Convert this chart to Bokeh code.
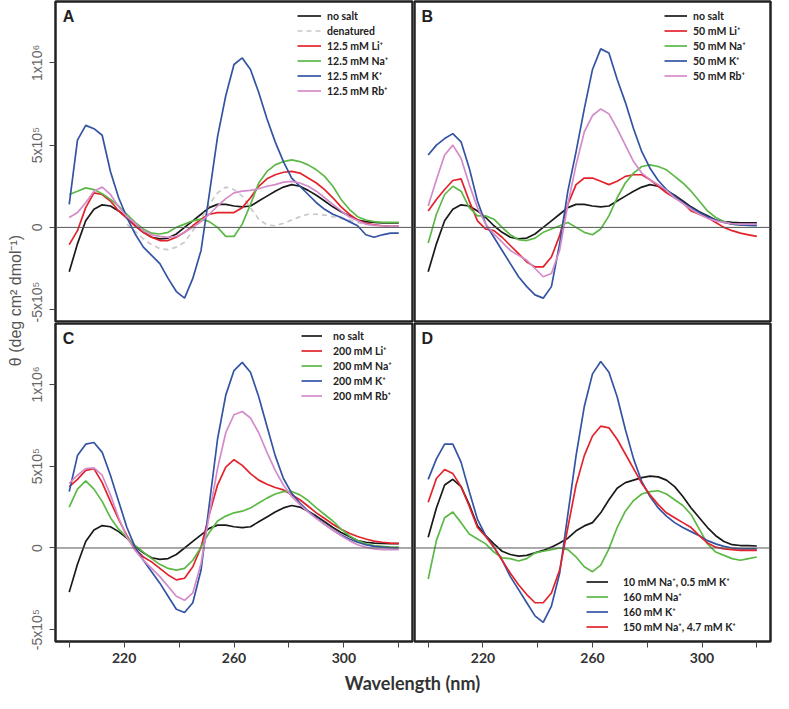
import numpy as np
from bokeh.plotting import figure
from bokeh.layouts import row, column
from bokeh.models import Range1d, FixedTicker, Span, Legend, LegendItem, Label
from bokeh.embed import file_html
from bokeh.resources import INLINE

# ---------------- data (theta in units of 1e5 deg cm2 dmol-1) ----------------
WL = list(range(200, 321, 3))          # wavelength (nm)
DEN_WL = list(range(221, 321, 3))      # denatured trace wavelengths

NO_SALT = [-2.7, -1.0, 0.4, 1.1, 1.37, 1.3, 1.0, 0.6, 0.1, -0.3, -0.6, -0.7, -0.65, -0.4, 0.0, 0.4,
           0.8, 1.2, 1.4, 1.4, 1.3, 1.25, 1.3, 1.6, 1.9, 2.2, 2.45, 2.6, 2.5, 2.25, 1.95, 1.6, 1.25,
           0.95, 0.7, 0.45, 0.35, 0.3, 0.28, 0.27, 0.27]
A_DEN = [0.2, -0.25, -0.7, -1.05, -1.3, -1.35, -1.2, -0.9, -0.2, 0.5, 1.4, 2.1, 2.45, 2.3, 1.9, 1.2,
         0.5, 0.15, 0.1, 0.25, 0.45, 0.65, 0.8, 0.8, 0.75, 0.65, 0.55, 0.45, 0.3, 0.2, 0.15, 0.1, 0.1, 0.1]
A_LI = [-1.05, -0.2, 1.2, 2.1, 2.0, 1.6, 1.0, 0.55, 0.1, -0.3, -0.6, -0.8, -0.8, -0.6, -0.3, 0.1, 0.5,
        0.8, 0.9, 0.9, 0.9, 1.2, 1.8, 2.5, 2.95, 3.2, 3.35, 3.4, 3.3, 3.0, 2.7, 2.3, 1.8, 1.25, 0.8,
        0.45, 0.25, 0.15, 0.1, 0.07, 0.06]
A_NA = [2.0, 2.2, 2.4, 2.3, 2.05, 1.7, 1.3, 0.8, 0.3, -0.1, -0.35, -0.4, -0.3, 0.0, 0.2, 0.4, 0.5,
        0.35, 0.0, -0.55, -0.55, 0.2, 1.4, 2.7, 3.4, 3.8, 4.0, 4.1, 4.0, 3.8, 3.5, 3.1, 2.5, 1.7, 1.1,
        0.65, 0.45, 0.35, 0.3, 0.3, 0.3]
A_K = [1.4, 5.3, 6.2, 6.0, 5.6, 3.4, 1.8, 0.6, -0.4, -1.2, -1.7, -2.2, -3.1, -3.9, -4.3, -3.1, -1.4,
       2.0, 5.5, 8.0, 9.9, 10.3, 9.6, 8.2, 6.6, 5.2, 4.0, 3.0, 2.5, 2.0, 1.5, 1.1, 0.8, 0.6, 0.35, 0.1,
       -0.45, -0.6, -0.45, -0.35, -0.35]
A_RB = [0.6, 0.9, 1.5, 2.2, 2.45, 2.0, 1.25, 0.65, 0.25, -0.2, -0.45, -0.55, -0.6, -0.55, -0.3, 0.0,
        0.35, 0.8, 1.3, 1.75, 2.1, 2.2, 2.25, 2.35, 2.5, 2.6, 2.75, 2.8, 2.7, 2.5, 2.2, 1.8, 1.4, 1.0,
        0.65, 0.4, 0.2, 0.12, 0.1, 0.08, 0.08]

B_LI = [1.0, 1.7, 2.3, 2.85, 2.95, 1.6, 0.4, -0.1, -0.2, -0.6, -1.1, -1.6, -2.1, -2.4, -2.4, -1.8, -0.5,
        1.4, 2.6, 3.0, 3.0, 2.8, 2.6, 2.8, 3.1, 3.2, 3.2, 2.9, 2.5, 2.1, 1.8, 1.5, 1.0, 0.8, 0.6, 0.3,
        0.0, -0.2, -0.35, -0.45, -0.55]
B_NA = [-0.95, 0.8, 2.0, 2.5, 2.2, 1.2, 0.7, 0.7, 0.5, 0.0, -0.45, -0.75, -0.8, -0.65, -0.3, -0.1, 0.1,
        0.3, 0.0, -0.3, -0.45, -0.1, 0.7, 1.8, 2.7, 3.3, 3.7, 3.8, 3.7, 3.5, 3.1, 2.7, 2.2, 1.6, 1.0,
        0.6, 0.35, 0.2, 0.15, 0.15, 0.15]
B_K = [4.4, 5.0, 5.4, 5.7, 5.2, 3.6, 1.6, 0.2, -0.6, -1.4, -2.2, -3.0, -3.6, -4.1, -4.3, -3.6, -1.0,
       2.2, 4.6, 7.2, 9.6, 10.85, 10.6, 9.0, 7.6, 6.0, 4.6, 3.6, 2.85, 2.3, 1.9, 1.5, 1.2, 0.9, 0.65,
       0.45, 0.3, 0.2, 0.15, 0.12, 0.1]
B_RB = [1.3, 2.9, 4.4, 5.0, 4.2, 2.6, 1.2, 0.2, -0.4, -0.9, -1.4, -1.7, -2.0, -2.5, -3.0, -2.8, -1.4,
        1.4, 3.8, 5.8, 6.8, 7.2, 6.9, 6.0, 5.0, 4.0, 3.3, 2.9, 2.6, 2.25, 1.8, 1.45, 1.1, 0.8, 0.55,
        0.4, 0.3, 0.22, 0.2, 0.2, 0.2]

C_LI = [3.75, 4.2, 4.75, 4.85, 4.0, 2.85, 1.75, 0.75, -0.05, -0.55, -0.85, -1.25, -1.65, -1.95, -1.85,
        -1.15, 0.05, 2.05, 3.85, 4.95, 5.4, 5.05, 4.55, 4.15, 3.9, 3.7, 3.55, 3.25, 2.95, 2.55, 2.15,
        1.8, 1.45, 1.15, 0.9, 0.7, 0.55, 0.42, 0.35, 0.3, 0.28]
C_NA = [2.5, 3.6, 4.1, 3.6, 2.85, 1.85, 1.15, 0.65, 0.15, -0.25, -0.65, -1.0, -1.25, -1.35, -1.25,
        -0.75, 0.05, 0.95, 1.65, 1.95, 2.15, 2.25, 2.45, 2.75, 3.05, 3.3, 3.45, 3.45, 3.25, 2.9, 2.45,
        2.05, 1.65, 1.15, 0.75, 0.45, 0.25, 0.15, 0.1, 0.05, 0.05]
C_K = [3.45, 5.65, 6.35, 6.45, 5.85, 4.45, 2.85, 1.25, 0.05, -0.75, -1.45, -2.15, -2.95, -3.75, -3.95,
       -3.35, -1.35, 2.65, 6.65, 9.35, 10.85, 11.35, 10.75, 9.25, 7.45, 5.65, 4.25, 3.35, 2.75, 2.25,
       1.85, 1.45, 1.1, 0.8, 0.55, 0.35, 0.2, 0.1, 0.05, 0.02, 0.0]
C_RB = [3.95, 4.45, 4.85, 4.9, 4.45, 3.25, 1.85, 0.65, -0.15, -0.75, -1.25, -1.75, -2.35, -2.95, -3.2,
        -2.75, -0.95, 2.05, 4.85, 7.05, 8.15, 8.35, 7.95, 7.05, 5.85, 4.75, 3.85, 3.15, 2.65, 2.2, 1.8,
        1.45, 1.1, 0.75, 0.45, 0.2, 0.05, -0.05, -0.1, -0.1, -0.1]

D_LOW = [0.65, 2.45, 3.85, 4.2, 3.75, 2.65, 1.35, 0.75, 0.25, -0.2, -0.4, -0.5, -0.45, -0.3, -0.15,
         0.05, 0.3, 0.6, 1.05, 1.35, 1.55, 2.15, 2.95, 3.65, 4.0, 4.15, 4.3, 4.4, 4.35, 4.15, 3.75,
         3.15, 2.45, 1.85, 1.25, 0.75, 0.4, 0.2, 0.15, 0.15, 0.12]
D_NA = [-1.9, 0.45, 1.85, 2.2, 1.55, 0.85, 0.55, 0.25, -0.25, -0.6, -0.65, -0.8, -0.65, -0.3, -0.2,
        -0.1, 0.0, -0.1, -0.55, -1.15, -1.45, -1.05, -0.05, 1.25, 2.25, 2.9, 3.3, 3.45, 3.5, 3.3, 2.95,
        2.6, 2.05, 1.15, 0.25, -0.25, -0.45, -0.65, -0.75, -0.65, -0.55]
D_K = [4.2, 5.45, 6.35, 6.35, 5.25, 3.45, 1.75, 0.75, 0.05, -0.75, -1.75, -2.55, -3.35, -4.15, -4.55,
       -3.55, -1.55, 2.05, 5.65, 8.65, 10.65, 11.4, 10.75, 9.25, 7.25, 5.45, 4.05, 3.15, 2.45, 1.95,
       1.55, 1.25, 1.0, 0.75, 0.45, 0.25, 0.1, 0.0, -0.05, -0.05, -0.05]
D_MIX = [2.8, 4.25, 4.8, 4.55, 3.75, 2.55, 1.25, 0.7, 0.05, -0.75, -1.55, -2.25, -2.85, -3.35, -3.35,
         -2.75, -1.35, 1.25, 3.85, 5.65, 6.85, 7.45, 7.35, 6.65, 5.75, 4.85, 3.95, 3.25, 2.65, 2.15,
         1.85, 1.55, 1.25, 0.75, 0.3, 0.05, -0.05, -0.1, -0.15, -0.15, -0.15]

X_TICKS = [200, 220, 240, 260, 280, 300, 320]
X_LABELS = {200: "", 220: "220", 240: "", 260: "260", 280: "", 300: "300", 320: ""}
Y_TICKS = [-5, 0, 5, 10]
Y_LABELS = {-5: "-5x10⁵", 0: "0", 5: "5x10⁵", 10: "1x10⁶"}

BLACK, RED, GREEN, BLUE, PINK, GRAY = "#1a1a1a", "#e3232b", "#5cb946", "#3353a3", "#d48bc9", "#c8c8c8"
LW = 1.7
XR = (195, 325)
YR = (-5.72, 13.73)


def panel(w, h, left_axis, bottom_axis, mbl, mbr, mbt, mbb, letter):
    p = figure(width=w, height=h, x_range=Range1d(*XR), y_range=Range1d(*YR),
               output_backend="svg", toolbar_location=None,
               x_axis_location="below" if bottom_axis else None,
               y_axis_location="left" if left_axis else None,
               min_border_left=mbl, min_border_right=mbr, min_border_top=mbt, min_border_bottom=mbb)
    p.grid.visible = False
    p.outline_line_color = "#222222"
    p.outline_line_width = 2.5
    p.background_fill_color = "white"
    p.border_fill_color = "white"
    if left_axis:
        ax = p.yaxis[0]
        ax.ticker = FixedTicker(ticks=Y_TICKS)
        ax.major_label_overrides = Y_LABELS
        ax.major_label_orientation = "vertical"
        ax.axis_line_color = None
        ax.minor_tick_line_color = None
        ax.major_tick_line_color = "#444444"
        ax.major_tick_out = 6
        ax.major_tick_in = 0
        ax.major_label_standoff = 4
        ax.major_label_text_font = "Liberation Sans"
        ax.major_label_text_font_size = "14px"
        ax.major_label_text_color = "#666666"
    if bottom_axis:
        ax = p.xaxis[0]
        ax.ticker = FixedTicker(ticks=X_TICKS)
        ax.major_label_overrides = X_LABELS
        ax.axis_line_color = None
        ax.minor_tick_line_color = None
        ax.major_tick_line_color = "#444444"
        ax.major_tick_out = 6
        ax.major_tick_in = 0
        ax.major_label_standoff = 5
        ax.major_label_text_font = "Lato"
        ax.major_label_text_font_style = "bold"
        ax.major_label_text_font_size = "14px"
        ax.major_label_text_color = "#333333"
    p.add_layout(Span(location=0, dimension="width", line_color="#555555", line_width=1))
    p.add_layout(Label(x=197.6, y=13.35, text=letter, text_baseline="top", text_align="left",
                       text_font="Liberation Sans", text_font_style="bold",
                       text_font_size="16px", text_color="#222222"))
    return p


def add_legend(p, items, loc, glyph_w, standoff):
    lg = Legend(items=[LegendItem(label=lab, renderers=[r]) for lab, r in items],
                location=loc, orientation="vertical", glyph_width=glyph_w, glyph_height=13,
                label_height=13, label_standoff=standoff, spacing=2, padding=0, margin=0,
                border_line_color=None, background_fill_alpha=0,
                label_text_font="Lato", label_text_font_style="bold",
                label_text_font_size="10.5px", label_text_color="#222222")
    p.add_layout(lg)


# ---------------- panels ----------------
pA = panel(387, 322, True, False, 28, 1, 1, 1, "A")
pB = panel(359, 322, False, False, 1, 2, 1, 1, "B")
pC = panel(387, 347, True, True, 28, 1, 1, 28, "C")
pD = panel(359, 347, False, True, 1, 2, 1, 28, "D")

rA = [
    ("no salt", pA.line(WL, NO_SALT, line_color=BLACK, line_width=LW)),
    ("denatured", pA.line(DEN_WL, A_DEN, line_color=GRAY, line_width=LW, line_dash="5 4")),
    ("12.5 mM Li⁺", pA.line(WL, A_LI, line_color=RED, line_width=LW)),
    ("12.5 mM Na⁺", pA.line(WL, A_NA, line_color=GREEN, line_width=LW)),
    ("12.5 mM K⁺", pA.line(WL, A_K, line_color=BLUE, line_width=LW)),
    ("12.5 mM Rb⁺", pA.line(WL, A_RB, line_color=PINK, line_width=LW)),
]
add_legend(pA, rA, (242, 224), 24, 6)

rB = [
    ("no salt", pB.line(WL, NO_SALT, line_color=BLACK, line_width=LW)),
    ("50 mM Li⁺", pB.line(WL, B_LI, line_color=RED, line_width=LW)),
    ("50 mM Na⁺", pB.line(WL, B_NA, line_color=GREEN, line_width=LW)),
    ("50 mM K⁺", pB.line(WL, B_K, line_color=BLUE, line_width=LW)),
    ("50 mM Rb⁺", pB.line(WL, B_RB, line_color=PINK, line_width=LW)),
]
add_legend(pB, rB, (250, 239), 23, 6)

rC = [
    ("no salt", pC.line(WL, NO_SALT, line_color=BLACK, line_width=LW)),
    ("200 mM Li⁺", pC.line(WL, C_LI, line_color=RED, line_width=LW)),
    ("200 mM Na⁺", pC.line(WL, C_NA, line_color=GREEN, line_width=LW)),
    ("200 mM K⁺", pC.line(WL, C_K, line_color=BLUE, line_width=LW)),
    ("200 mM Rb⁺", pC.line(WL, C_RB, line_color=PINK, line_width=LW)),
]
add_legend(pC, rC, (246, 239), 21, 11)

rD = [
    ("10 mM Na⁺, 0.5 mM K⁺", pD.line(WL, D_LOW, line_color=BLACK, line_width=LW)),
    ("160 mM Na⁺", pD.line(WL, D_NA, line_color=GREEN, line_width=LW)),
    ("160 mM K⁺", pD.line(WL, D_K, line_color=BLUE, line_width=LW)),
    ("150 mM Na⁺, 4.7 mM K⁺", pD.line(WL, D_MIX, line_color=RED, line_width=LW)),
]
add_legend(pD, rD, (172, 8), 22, 15)


# ---------------- shared axis titles ----------------
def blank(w, h):
    f = figure(width=w, height=h, x_range=Range1d(0, w), y_range=Range1d(0, h),
               output_backend="svg", toolbar_location=None, x_axis_location=None,
               y_axis_location=None, min_border=0)
    f.grid.visible = False
    f.outline_line_color = None
    f.background_fill_color = "white"
    f.border_fill_color = "white"
    return f


yt = blank(26, 669)
yt.add_layout(Label(x=15, y=369, text="θ (deg cm² dmol⁻¹)", angle=np.pi / 2,
                    text_align="center", text_baseline="middle",
                    text_font="Liberation Sans", text_font_size="16px", text_color="#555555"))

xt = blank(772, 24)
xt.add_layout(Label(x=412, y=11, text="Wavelength (nm)", text_align="center",
                    text_baseline="middle", text_font="Lato", text_font_style="bold",
                    text_font_size="18px", text_color="#333333"))

layout = column(row(yt, column(row(pA, pB), row(pC, pD))), xt)

open("out.html", "w").write(file_html(layout, INLINE))
